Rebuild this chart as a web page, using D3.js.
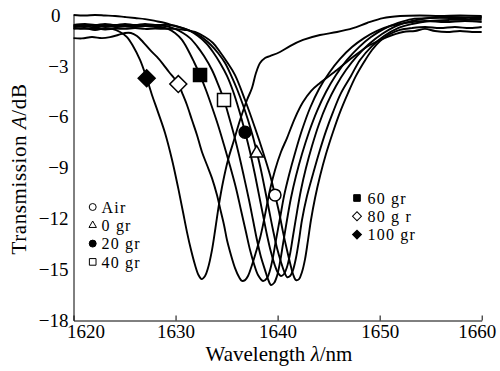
<!DOCTYPE html>
<html>
<head>
<meta charset="utf-8">
<script src="https://cdn.jsdelivr.net/npm/d3@7"></script>
<style>
  html, body { margin: 0; padding: 0; background: #fff; }
  svg { display: block; font-family: "Liberation Serif", "Times New Roman", serif; }
  .curve { fill: none; stroke: #000; stroke-width: 1.9; stroke-linejoin: round; }
  .axis path, .axis line { stroke: #000; stroke-width: 1; }
  .axis text { font-family: "Liberation Serif", serif; font-size: 19px; fill: #000; }
</style>
</head>
<body>
<div id="chart"></div>
<script>
// ---------- DATA (wavelength nm, transmission dB) ----------
const xTicks = [1620, 1630, 1640, 1650, 1660];
const yTicks = [0, -3, -6, -9, -12, -15, -18];

const airCurve = [
  [1620.00,-0.77],[1621.13,-0.82],[1622.11,-0.77],[1623.09,-0.85],[1624.07,-0.80],[1625.05,-0.82],
  [1626.03,-0.77],[1627.01,-0.82],[1627.99,-0.80],[1628.97,-0.82],[1629.95,-0.82],[1630.93,-0.88],
  [1631.91,-1.00],[1632.89,-1.30],[1633.67,-1.65],[1634.36,-2.18],[1635.04,-2.77],[1635.83,-3.54],
  [1636.81,-5.01],[1637.79,-6.66],[1638.57,-8.07],[1639.26,-9.43],[1639.75,-10.61],[1640.14,-11.61],
  [1640.53,-12.79],[1640.92,-13.85],[1641.22,-14.61],[1641.51,-15.26],[1641.80,-15.62],[1642.10,-15.56],
  [1642.39,-15.14],[1642.69,-14.38],[1642.98,-13.26],[1643.27,-12.08],[1643.67,-10.78],[1644.16,-9.49],
  [1644.74,-8.19],[1645.43,-6.89],[1646.12,-5.72],[1646.90,-4.60],[1647.68,-3.59],[1648.47,-2.77],
  [1649.25,-2.06],[1650.04,-1.53],[1651.02,-1.12],[1651.99,-0.88],[1653.17,-0.77],[1654.44,-0.71],
  [1655.91,-0.77],[1657.38,-0.71],[1658.85,-0.77],[1660.00,-0.71]
];

const gr0Curve = [
  [1620.00,0.00],[1621.13,-0.03],[1622.11,0.00],[1623.09,-0.03],[1624.07,-0.06],[1625.05,-0.12],
  [1626.03,-0.18],[1627.01,-0.24],[1627.99,-0.35],[1628.97,-0.47],[1629.95,-0.65],[1630.93,-0.82],
  [1631.91,-1.06],[1632.69,-1.36],[1633.47,-1.77],[1634.16,-2.24],[1634.85,-2.83],[1635.43,-3.54],
  [1636.02,-4.36],[1636.61,-5.30],[1637.10,-6.19],[1637.59,-7.19],[1637.98,-8.13],[1638.37,-9.13],
  [1638.77,-10.31],[1639.16,-11.49],[1639.55,-12.67],[1639.94,-13.73],[1640.33,-14.55],[1640.63,-15.09],
  [1640.92,-15.44],[1641.22,-15.38],[1641.51,-15.03],[1641.80,-14.32],[1642.10,-13.26],[1642.39,-12.08],
  [1642.88,-10.67],[1643.47,-9.37],[1644.06,-8.13],[1644.74,-6.84],[1645.43,-5.72],[1646.21,-4.60],
  [1647.19,-3.59],[1648.08,-2.65],[1649.25,-1.83],[1650.43,-1.24],[1651.80,-0.77],[1653.17,-0.53],
  [1654.93,-0.35],[1656.89,-0.29],[1658.85,-0.29],[1660.00,-0.29]
];

const gr20Curve = [
  [1620.00,-0.59],[1621.13,-0.53],[1622.11,-0.59],[1623.09,-0.53],[1624.07,-0.59],[1625.05,-0.53],
  [1626.03,-0.59],[1627.01,-0.53],[1627.99,-0.59],[1629.46,-0.59],[1630.44,-0.71],[1631.42,-0.94],
  [1632.20,-1.24],[1632.98,-1.65],[1633.67,-2.18],[1634.36,-2.83],[1635.04,-3.59],[1635.63,-4.48],
  [1636.22,-5.60],[1636.81,-6.89],[1637.30,-8.07],[1637.79,-9.43],[1638.18,-10.61],[1638.57,-11.79],
  [1638.96,-12.96],[1639.35,-13.97],[1639.75,-14.79],[1640.04,-15.20],[1640.33,-15.38],[1640.63,-15.26],
  [1640.92,-14.85],[1641.22,-14.08],[1641.51,-13.02],[1641.90,-11.61],[1642.29,-10.31],[1642.78,-9.02],
  [1643.37,-7.72],[1644.06,-6.42],[1644.84,-5.24],[1645.72,-4.18],[1646.70,-3.24],[1647.78,-2.42],
  [1648.96,-1.71],[1650.23,-1.12],[1651.60,-0.65],[1653.17,-0.35],[1654.93,-0.18],[1656.89,-0.12],
  [1658.85,-0.15],[1660.00,-0.12]
];

const gr40Curve = [
  [1620.00,-0.65],[1621.13,-0.59],[1622.11,-0.65],[1623.09,-0.59],[1624.07,-0.65],[1625.05,-0.59],
  [1626.03,-0.65],[1627.01,-0.59],[1627.99,-0.65],[1628.97,-0.65],[1629.95,-0.82],[1630.73,-1.06],
  [1631.42,-1.36],[1632.10,-1.83],[1632.79,-2.42],[1633.57,-3.24],[1634.16,-4.07],[1634.75,-5.01],
  [1635.24,-6.01],[1635.73,-7.07],[1636.22,-8.25],[1636.71,-9.55],[1637.20,-10.90],[1637.59,-12.08],
  [1637.98,-13.26],[1638.37,-14.26],[1638.77,-15.03],[1639.06,-15.56],[1639.35,-15.91],[1639.65,-15.79],
  [1639.94,-15.38],[1640.24,-14.55],[1640.53,-13.49],[1640.92,-12.08],[1641.31,-10.78],[1641.80,-9.49],
  [1642.39,-8.19],[1643.08,-6.89],[1643.86,-5.66],[1644.74,-4.54],[1645.72,-3.54],[1646.80,-2.65],
  [1647.98,-1.89],[1649.15,-1.30],[1650.43,-0.82],[1651.80,-0.47],[1653.17,-0.24],[1654.93,-0.18],
  [1656.89,-0.18],[1658.85,-0.24],[1660.00,-0.18]
];

const gr60Curve = [
  [1620.00,-0.71],[1621.13,-0.65],[1622.11,-0.74],[1623.09,-0.65],[1624.07,-0.71],[1625.05,-0.68],
  [1626.03,-0.71],[1627.01,-0.65],[1627.99,-0.71],[1628.48,-0.71],[1629.26,-0.82],[1629.95,-1.06],
  [1630.63,-1.47],[1631.22,-2.06],[1631.81,-2.77],[1632.40,-3.54],[1632.98,-4.42],[1633.57,-5.42],
  [1634.16,-6.48],[1634.75,-7.66],[1635.34,-8.90],[1635.92,-10.19],[1636.41,-11.49],[1636.90,-12.79],
  [1637.30,-13.85],[1637.69,-14.67],[1638.08,-15.32],[1638.57,-15.67],[1638.96,-15.50],[1639.26,-15.03],
  [1639.55,-14.26],[1639.84,-13.26],[1640.24,-11.96],[1640.63,-10.67],[1641.12,-9.43],[1641.71,-8.13],
  [1642.39,-6.78],[1643.18,-5.48],[1644.06,-4.36],[1645.04,-3.42],[1646.12,-2.59],[1647.29,-1.89],
  [1648.47,-1.36],[1649.74,-0.94],[1651.02,-0.65],[1652.48,-0.47],[1654.44,-0.35],[1656.40,-0.41],
  [1658.36,-0.35],[1660.00,-0.41]
];

const gr80Curve = [
  [1620.00,-1.36],[1620.83,-1.38],[1621.81,-1.30],[1622.79,-1.36],[1623.58,-1.30],[1624.36,-1.18],
  [1625.05,-1.06],[1625.63,-1.06],[1626.22,-1.24],[1626.81,-1.59],[1627.50,-2.06],[1628.18,-2.47],
  [1628.77,-2.89],[1629.36,-3.36],[1629.85,-3.71],[1630.27,-4.07],[1630.73,-4.71],[1631.12,-5.30],
  [1631.61,-6.19],[1632.10,-7.07],[1632.59,-8.07],[1633.08,-8.84],[1633.57,-9.61],[1634.06,-10.61],
  [1634.45,-11.61],[1634.75,-12.37],[1635.04,-13.26],[1635.43,-14.14],[1635.83,-14.91],[1636.22,-15.44],
  [1636.51,-15.67],[1636.81,-15.62],[1637.10,-15.38],[1637.49,-14.73],[1637.88,-13.97],[1638.28,-13.14],
  [1638.57,-12.37],[1638.86,-11.49],[1639.25,-10.31],[1639.75,-9.13],[1640.33,-8.07],[1640.92,-7.25],
  [1641.70,-6.07],[1642.49,-5.13],[1643.27,-4.48],[1644.15,-4.01],[1645.82,-3.24],[1647.39,-2.47],
  [1649.05,-1.77],[1650.72,-1.30],[1652.29,-1.00],[1653.46,-0.94],[1654.44,-0.82],[1655.42,-0.94],
  [1656.60,-1.00],[1657.87,-0.94],[1659.05,-1.00],[1660.00,-1.00]
];

const gr100Curve = [
  [1620.00,-0.82],[1621.13,-0.77],[1622.11,-0.88],[1623.09,-0.77],[1623.77,-0.82],[1624.56,-1.00],
  [1625.24,-1.30],[1625.83,-1.83],[1626.52,-2.65],[1627.17,-3.73],[1627.69,-4.71],[1628.28,-5.72],
  [1628.97,-6.95],[1629.66,-8.54],[1630.24,-10.14],[1630.73,-11.61],[1631.12,-12.79],[1631.52,-13.85],
  [1631.91,-14.73],[1632.25,-15.32],[1632.56,-15.56],[1632.89,-15.38],[1633.18,-14.91],[1633.57,-13.85],
  [1633.91,-12.55],[1634.26,-11.14],[1634.65,-9.84],[1635.14,-8.54],[1635.73,-7.37],[1636.32,-6.19],
  [1637.00,-5.01],[1637.49,-4.30],[1637.88,-3.42],[1638.28,-2.83],[1638.77,-2.53],[1639.25,-2.42],
  [1640.23,-2.18],[1641.21,-1.83],[1642.49,-1.47],[1644.15,-1.18],[1645.82,-1.00],[1647.39,-0.77],
  [1648.76,-0.47],[1650.33,-0.18],[1652.00,-0.06],[1653.95,-0.03],[1655.90,-0.06],[1657.86,-0.03],
  [1660.00,-0.06]
];

// one marker per curve, where it sits on the falling edge
const seriesNames = ['Air', '0 gr', '20 gr', '40 gr', '60 gr', '80 g r', '100 gr'];
const seriesCurves = [airCurve, gr0Curve, gr20Curve, gr40Curve, gr60Curve, gr80Curve, gr100Curve];
const markerAt = [
  [1639.75, -10.61], [1637.95, -8.15], [1636.81, -6.91], [1634.75, -5.01],
  [1632.40, -3.54], [1630.27, -4.07], [1627.17, -3.73]
];
const markerType = ['circle', 'triangle', 'circle', 'square', 'square', 'diamond', 'diamond'];
const markerFilled = [false, false, true, false, true, false, true];

const legendLeft = ['Air', '0 gr', '20 gr', '40 gr'];
const legendRight = ['60 gr', '80 g r', '100 gr'];

// ---------- LAYOUT ----------
const width = 500;
const height = 371;
const plot = { left: 73.5, right: 481.7, top: 15, bottom: 320.5 };

const svg = d3.select('#chart')
  .append('svg')
  .attr('width', width)
  .attr('height', height);

const x = d3.scaleLinear().domain([1620, 1660]).range([plot.left, plot.right]);
const y = d3.scaleLinear().domain([-18, 0]).range([plot.bottom, plot.top]);

// ---------- AXES ----------
const xAxis = svg.append('g')
  .attr('class', 'axis')
  .attr('transform', `translate(0,${plot.bottom})`)
  .call(d3.axisBottom(x).tickValues(xTicks).tickSizeInner(-5).tickSizeOuter(0).tickPadding(4).tickFormat(d3.format('d')));
xAxis.selectAll('.tick text')
  .attr('dx', (d) => (d === 1620 ? 12 : d === 1660 ? -5 : 0));

const yAxis = svg.append('g')
  .attr('class', 'axis')
  .attr('transform', `translate(${plot.left},0)`)
  .call(d3.axisLeft(y).tickValues(yTicks).tickSize(0).tickPadding(5));
yAxis.selectAll('.tick text')
  .attr('dx', (d) => (d === 0 ? -8 : 0));

// axis titles
const xTitle = svg.append('text')
  .attr('x', 279)
  .attr('y', 361)
  .attr('text-anchor', 'middle')
  .style('font-size', '21px');
xTitle.append('tspan').text('Wavelength ');
xTitle.append('tspan').style('font-style', 'italic').text('λ');
xTitle.append('tspan').text('/nm');

const yTitle = svg.append('text')
  .attr('transform', 'translate(26,169) rotate(-90)')
  .attr('text-anchor', 'middle')
  .style('font-size', '21px')
  .style('letter-spacing', '0.6px');
yTitle.append('tspan').text('Transmission ');
yTitle.append('tspan').style('font-style', 'italic').text('A');
yTitle.append('tspan').text('/dB');

// ---------- CURVES ----------
const line = d3.line()
  .x((d) => x(d[0]))
  .y((d) => y(d[1]))
  .curve(d3.curveCatmullRom.alpha(0.5));

svg.append('g')
  .selectAll('path')
  .data(seriesCurves)
  .join('path')
  .attr('class', 'curve')
  .attr('d', line);

// ---------- MARKERS ----------
function symbolPath(type, big) {
  if (type === 'circle') return d3.symbol(d3.symbolCircle, big ? 110 : 38)();
  if (type === 'triangle') return d3.symbol(d3.symbolTriangle, big ? 75 : 24)();
  if (type === 'square') return d3.symbol(d3.symbolSquare, big ? 170 : 44)();
  return d3.symbol(d3.symbolSquare, big ? 144 : 40)(); // diamond = rotated square
}

function drawMarker(g, i, cx, cy, big) {
  const type = markerType[i];
  const rot = type === 'diamond' ? ' rotate(45)' : '';
  g.append('path')
    .attr('d', symbolPath(type, big))
    .attr('transform', `translate(${cx},${cy})${rot}`)
    .attr('fill', markerFilled[i] ? '#000' : '#fff')
    .attr('stroke', '#000')
    .attr('stroke-width', big ? 1.5 : 1);
}

const markers = svg.append('g');
markerAt.forEach((p, i) => drawMarker(markers, i, x(p[0]), y(p[1]), true));

// ---------- LEGENDS ----------
const legend = svg.append('g')
  .style('font-size', '16px')
  .style('letter-spacing', '1.2px');
legendLeft.forEach((name, k) => {
  const i = seriesNames.indexOf(name);
  const cy = 207 + k * 18.3;
  drawMarker(legend, i, 92.7, cy, false);
  legend.append('text').attr('x', 101.5).attr('y', cy).attr('dy', '0.35em').text(name);
});
legendRight.forEach((name, k) => {
  const i = seriesNames.indexOf(name);
  const cy = 198 + k * 18.3;
  drawMarker(legend, i, 357, cy, false);
  legend.append('text').attr('x', 367.5).attr('y', cy).attr('dy', '0.35em').text(name);
});
</script>
</body>
</html>
